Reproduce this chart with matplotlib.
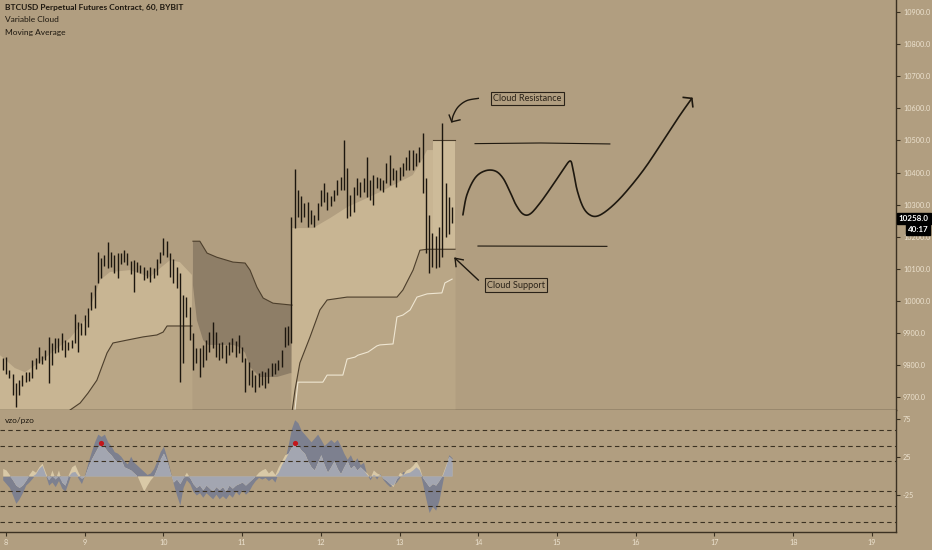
import numpy as np
import matplotlib
matplotlib.use("Agg")
import matplotlib.pyplot as plt

# ---------------- data ----------------
bar_hours = list(range(-1, 137))   # hours since day 8 00:00
highs = [9822, 9825, 9785, 9772, 9744, 9753, 9769, 9778, 9778, 9816,
         9822, 9856, 9828, 9847, 9887, 9869, 9884, 9884, 9900, 9878,
         9872, 9878, 9959, 9934, 9931, 9956, 9978, 10027, 10049, 10152,
         10133, 10143, 10183, 10152, 10143, 10149, 10149, 10158, 10149, 10124,
         10127, 10121, 10112, 10105, 10096, 10105, 10102, 10130, 10152, 10196,
         10186, 10149, 10130, 10105, 10087, 10018, 10012, 9981, 9900, 9853,
         9853, 9862, 9878, 9903, 9934, 9903, 9869, 9872, 9862, 9872,
         9884, 9875, 9893, 9856, 9822, 9809, 9785, 9769, 9775, 9781,
         9778, 9791, 9806, 9806, 9816, 9847, 9918, 9922, 10261, 10411,
         10345, 10327, 10305, 10308, 10283, 10267, 10305, 10345, 10367, 10339,
         10327, 10345, 10376, 10386, 10501, 10414, 10330, 10354, 10383, 10370,
         10383, 10448, 10376, 10392, 10386, 10383, 10376, 10429, 10454, 10414,
         10407, 10417, 10429, 10448, 10470, 10470, 10460, 10479, 10523, 10383,
         10267, 10211, 10202, 10230, 10554, 10367, 10323, 10292]
lows = [9785, 9772, 9760, 9707, 9669, 9707, 9735, 9747, 9750, 9760,
        9788, 9806, 9803, 9816, 9744, 9800, 9837, 9840, 9847, 9825,
        9847, 9853, 9869, 9840, 9893, 9893, 9918, 9971, 9978, 10055,
        10071, 10108, 10102, 10105, 10087, 10071, 10115, 10121, 10112, 10083,
        10027, 10090, 10087, 10065, 10071, 10059, 10071, 10080, 10118, 10143,
        10136, 10074, 10055, 10040, 9747, 9806, 9950, 9878, 9785, 9806,
        9763, 9794, 9816, 9841, 9853, 9825, 9816, 9822, 9806, 9831,
        9840, 9825, 9837, 9809, 9716, 9738, 9732, 9716, 9732, 9738,
        9728, 9744, 9766, 9772, 9785, 9794, 9856, 9862, 9869, 10227,
        10261, 10246, 10261, 10230, 10239, 10230, 10252, 10295, 10308, 10283,
        10295, 10311, 10330, 10345, 10345, 10258, 10264, 10277, 10330, 10323,
        10339, 10323, 10314, 10298, 10351, 10345, 10339, 10367, 10361, 10376,
        10354, 10376, 10389, 10407, 10407, 10407, 10420, 10432, 10336, 10149,
        10087, 10105, 10102, 10105, 10136, 10199, 10208, 10242]
last_price = 10258.0

# Variable Cloud: bullish cloud segment A (upper edge / lower band)
cloudA_up_x = [-1.8, 2.7, 5.8, 10.4, 14.9, 19.5, 24.1, 27.1, 28.7, 31.7, 37.8, 43.9, 47.0, 50.0, 53.0, 56.7]
cloudA_up_y = [9831, 9791, 9778, 9810, 9847, 9884, 9941, 10018, 10065, 10090, 10096, 10074, 10102, 10127, 10121, 10081]
bandA_x = [-2.0, 16.5, 19.5, 22.6, 25.0, 27.7, 30.8, 32.6, 36.9, 41.8, 46.0, 47.9, 49.1, 56.7]
bandA_y = [9560, 9629, 9660, 9682, 9713, 9753, 9838, 9869, 9878, 9888, 9894, 9903, 9922, 9922]
# bearish (dark) cloud segment
dark_up_x = [57.0, 59.1, 61.3, 64.3, 69.2, 72.9, 74.4, 76.5, 78.4, 81.4, 87.2]
dark_up_y = [10186, 10186, 10149, 10136, 10121, 10118, 10096, 10043, 10009, 9993, 9987]
dark_lo_x = [57.0, 58.2, 60.1, 61.6, 69.2, 71.3, 72.9, 74.4, 77.4, 82.6, 86.6, 87.2]
dark_lo_y = [10049, 9940, 9878, 9863, 9863, 9856, 9838, 9794, 9763, 9763, 9775, 9775]
# bullish cloud segment B
cloudB_up_x = [87.2, 93.6, 98.8, 104.0, 114.0, 124.0, 126.8, 128.4, 130.2]
cloudB_up_y = [10227, 10227, 10258, 10292, 10339, 10392, 10439, 10470, 10470]
bandB_x = [87.0, 88.1, 89.6, 92.7, 95.7, 97.9, 104.0, 119.2, 121.0, 124.1, 126.2, 128.4, 136.9]
bandB_y = [9640, 9722, 9807, 9888, 9972, 10003, 10012, 10012, 10034, 10096, 10158, 10161, 10161]
resist_x = [130.2, 136.9]
resist_y = [10501, 10501]
# Moving average (stepped)
ma_x = [88.1, 89.0, 96.6, 97.9, 102.7, 104.0, 106.4, 107.3, 109.5, 110.4, 113.1, 114.0, 118.0,
        119.2, 121.0, 123.2, 125.3, 128.4, 132.9, 133.8, 136.0]
ma_y = [9660, 9747, 9747, 9769, 9769, 9819, 9825, 9831, 9838, 9841, 9860, 9863, 9866,
        9950, 9956, 9972, 10012, 10022, 10025, 10056, 10068]

# vzo / pzo oscillator
vzo = [-5, -10, -15, -25, -36, -30, -22, -12, -8, -3,
       3, 10, 14, 2, -12, -8, -14, -6, -16, -20,
       -8, 5, 6, -3, -10, 2, 18, 32, 45, 55,
       52, 55, 45, 40, 32, 30, 26, 20, 16, 26,
       18, 14, 10, 6, 2, 4, 10, 20, 32, 39,
       25, 8, -10, -25, -38, -15, -5, -10, -20, -25,
       -22, -28, -22, -26, -30, -24, -30, -26, -30, -24,
       -28, -20, -25, -18, -24, -20, -12, -6, -2, -4,
       -2, -6, -3, -8, 5, 15, 22, 40, 62, 74,
       70, 60, 55, 50, 45, 50, 55, 48, 40, 44,
       48, 44, 48, 40, 30, 22, 28, 18, 24, 15,
       18, 2, -5, 2, -4, 3, -5, -10, -14, -12,
       -8, -2, 6, 4, 5, 8, 12, 8, -10, -30,
       -48, -40, -45, -32, -10, 12, 28, 24]
pzo = [10, 8, 2, -5, -12, -15, -12, -6, 2, 8,
       5, 12, 17, 5, -5, 8, -4, 8, -8, -12,
       2, 12, 15, 5, -3, 0, 12, 22, 30, 38,
       43, 38, 32, 28, 22, 18, 22, 12, 10, 8,
       4, 0, -10, -20, -12, -5, 0, 10, 22, 30,
       20, 5, -8, -4, -10, -2, 5, -2, -10, -15,
       -12, -18, -12, -16, -20, -14, -18, -14, -20, -12,
       -16, -12, -10, -8, -12, -8, -4, 0, 5, 8,
       10, 4, 8, 2, 12, 20, 28, 30, 38, 43,
       40, 34, 30, 20, 12, 8, 18, 28, 15, 5,
       12, 20, 10, 3, 12, 20, 10, 14, 8, 12,
       8, 4, -2, 8, 4, 2, -3, -6, -10, -14,
       -4, 5, 2, 8, 10, 14, 20, 12, -2, -8,
       -14, -10, -12, -6, 2, 14, 26, 22]
signal_hours = [29, 88]
osc_levels = [60, 40, 20, -20, -40, -60]

price_ticks = [9700, 9800, 9900, 10000, 10100, 10200, 10300, 10400, 10500, 10600, 10700, 10800, 10900]
day_labels = ["8", "9", "10", "11", "12", "13", "14", "15", "16", "17", "18", "19"]
osc_ticks = [75, 25, -25]

# hand drawn annotations (hour, price)
path_x = [139.3, 140.5, 143.0, 146.0, 149.1, 151.5, 153.7, 155.5, 157.6, 159.8, 162.8, 166.5, 169.8,
          172.0, 172.9, 174.1, 175.9, 178.0, 180.5, 184.1, 188.7, 194.8, 200.9, 205.5, 209.1]
path_y = [10268, 10330, 10383, 10405, 10405, 10383, 10339, 10299, 10271, 10271, 10305, 10358, 10408,
          10436, 10408, 10346, 10293, 10268, 10265, 10289, 10336, 10414, 10508, 10579, 10631]

# ---------------- style ----------------
BG = "#b19e80"
BAR = "#1c160e"
LIGHT = "#c8b593"
BELOW = "#b9a686"
DARKC = "#8e7e67"
LINE = "#4d3f2c"
MA = "#efe6d2"
TXT = "#1e180f"
AXT = "#ece2cf"
SLATE = "#7d808f"
MIX = "#a3a6b1"
CREAM = "#d9c9a7"

W, H = 932, 550
fig = plt.figure(figsize=(W / 100, H / 100), dpi=100)
fig.patch.set_facecolor(BG)

ax = fig.add_axes([0, 1 - 410 / H, 896 / W, 410 / H])
axi = fig.add_axes([0, 18 / H, 896 / W, 122 / H])
for a in (ax, axi):
    a.set_facecolor(BG)
    for s in ("top", "left"):
        a.spines[s].set_visible(False)
    for s in ("right", "bottom"):
        a.spines[s].set_color("#3b3122")
        a.spines[s].set_linewidth(1.0)

x0, x1 = (0 - 6) / 3.28, (896 - 6) / 3.28
ax.set_xlim(x0, x1)
axi.set_xlim(x0, x1)
ymin, ymax = 10937.4 - 3.115 * 410, 10937.4
ax.set_ylim(ymin, ymax)
axi.set_ylim(-73.7, 86.8)

# clouds
ax.fill_between(bandA_x, ymin - 100, bandA_y, color=BELOW, lw=0, zorder=1)
ax.fill_between(bandB_x, ymin - 100, bandB_y, color=BELOW, lw=0, zorder=1)
ax.fill(cloudA_up_x + bandA_x[::-1], cloudA_up_y + bandA_y[::-1], color=LIGHT, lw=0, zorder=1)
ax.fill(dark_up_x + dark_lo_x[::-1], dark_up_y + dark_lo_y[::-1], color=DARKC, lw=0, zorder=1)
ax.fill(cloudB_up_x + bandB_x[::-1], cloudB_up_y + bandB_y[::-1], color=LIGHT, lw=0, zorder=1)
ax.fill_between(resist_x, [bandB_y[-1]] * 2, resist_y, color="#cdbb99", lw=0, zorder=1)

ax.plot(bandA_x, bandA_y, color=LINE, lw=0.8, zorder=2)
ax.plot(dark_up_x, dark_up_y, color=LINE, lw=0.8, zorder=2)
ax.plot(bandB_x, bandB_y, color=LINE, lw=0.8, zorder=2)
ax.plot(resist_x, resist_y, color=LINE, lw=0.8, zorder=2)
ax.plot(ma_x, ma_y, color=MA, lw=0.8, zorder=2)

# OHLC bars
ax.vlines(bar_hours, lows, highs, color=BAR, lw=1.0, zorder=3)

# annotations
def catmull(xs, ys, n=12):
    xs = np.asarray(xs, float); ys = np.asarray(ys, float)
    px = np.concatenate([[xs[0]], xs, [xs[-1]]]); py = np.concatenate([[ys[0]], ys, [ys[-1]]])
    ox, oy = [], []
    for k in range(1, len(px) - 2):
        t = np.linspace(0, 1, n, endpoint=False)
        for arr, out in ((px, ox), (py, oy)):
            p0, p1, p2, p3 = arr[k - 1], arr[k], arr[k + 1], arr[k + 2]
            out.extend(0.5 * (2 * p1 + (-p0 + p2) * t + (2 * p0 - 5 * p1 + 4 * p2 - p3) * t ** 2
                              + (-p0 + 3 * p1 - 3 * p2 + p3) * t ** 3))
    ox.append(xs[-1]); oy.append(ys[-1])
    return ox, oy

cx, cy = catmull(path_x, path_y)
ax.plot(cx, cy, color=TXT, lw=1.2, zorder=4, solid_capstyle="round")
ax.plot([206.5, 209.1, 209.4], [10634, 10631, 10605], color=TXT, lw=1.2, zorder=4)
ax.plot([143.0, 163.0, 184.1], [10490, 10492, 10489], color=TXT, lw=0.8, zorder=4)
ax.plot([143.9, 183.2], [10171, 10170], color=TXT, lw=0.8, zorder=4)

ax_x, ax_y = catmull([144.0, 140.5, 137.9, 136.4, 135.9], [10631, 10624, 10605, 10579, 10558])
ax.plot(ax_x, ax_y, color=TXT, lw=1.0, zorder=4)
ax.plot([135.1, 135.9, 138.4], [10579, 10558, 10564], color=TXT, lw=1.0, zorder=4)
ax.plot([144.0, 136.9], [10065, 10133], color=TXT, lw=1.0, zorder=4)
ax.plot([139.4, 136.9, 137.2], [10128, 10133, 10107], color=TXT, lw=1.0, zorder=4)

boxkw = dict(boxstyle="square,pad=0.25", fc=BG, ec="#2a2218", lw=0.8)
ax.text(159.0, 10630, "Cloud Resistance", fontsize=6.6, family="Lato", color="#2a2218",
        ha="center", va="center", bbox=boxkw, zorder=5)
ax.text(155.5, 10049, "Cloud Support", fontsize=6.6, family="Lato", color="#2a2218",
        ha="center", va="center", bbox=boxkw, zorder=5)

# price axis
ax.yaxis.tick_right()
ax.set_yticks(price_ticks)
ax.set_yticklabels([f"{v:.1f}" for v in price_ticks])
ax.tick_params(axis="y", colors="#3b3122", labelcolor=AXT, labelsize=5.2, length=3, width=0.8, pad=2)
for lab in ax.get_yticklabels():
    lab.set_family("Lato")
ax.set_xticks([])

# oscillator
hrs = np.array(bar_hours)
v = np.array(vzo, float); p = np.array(pzo, float)
both = np.where(v * p > 0, np.sign(v) * np.minimum(np.abs(v), np.abs(p)), 0.0)
axi.fill_between(hrs, 0, v, color=SLATE, lw=0, zorder=1)
axi.fill_between(hrs, 0, p, color=CREAM, lw=0, zorder=2)
axi.fill_between(hrs, 0, both, color=MIX, lw=0, zorder=3)
for lv in osc_levels:
    axi.axhline(lv, color="#3b3122", lw=0.8, ls=(0, (4, 3)), zorder=4)
axi.scatter(signal_hours, [pzo[h + 1] for h in signal_hours], s=14, color="#c3161b", zorder=5, lw=0)

axi.yaxis.tick_right()
axi.set_yticks(osc_ticks)
axi.set_yticklabels([str(t) for t in osc_ticks])
axi.tick_params(axis="y", colors="#3b3122", labelcolor=AXT, labelsize=5.2, length=3, width=0.8, pad=2)
axi.set_xticks([24 * k for k in range(len(day_labels))])
axi.set_xticklabels(day_labels)
axi.tick_params(axis="x", colors="#3b3122", labelcolor=AXT, labelsize=5.2, length=3, width=0.8, pad=2)
for lab in axi.get_yticklabels() + axi.get_xticklabels():
    lab.set_family("Lato")

# header texts
fig.text(5 / W, 1 - 7 / H, "BTCUSD Perpetual Futures Contract, 60, BYBIT", fontsize=6.0,
         family="Lato", weight="bold", color=TXT, va="center")
fig.text(5 / W, 1 - 20 / H, "Variable Cloud", fontsize=6.0, family="Lato", color=TXT, va="center")
fig.text(5 / W, 1 - 32 / H, "Moving Average", fontsize=6.0, family="Lato", color=TXT, va="center")
fig.text(5 / W, 1 - 421 / H, "vzo/pzo", fontsize=6.0, family="Lato", color=TXT, va="center")

# last price tags
fy = (last_price - ymin) / (ymax - ymin)
ax.text(1.003, fy, f"{last_price:.1f}", transform=ax.transAxes, fontsize=5.8, family="Lato",
        color="white", weight="bold", va="center", ha="left",
        bbox=dict(boxstyle="square,pad=0.25", fc="black", ec="black"), clip_on=False, zorder=6)
ax.text(1.013, fy - 0.028, "40:17", transform=ax.transAxes, fontsize=5.8, family="Lato",
        color="white", weight="bold", va="center", ha="left",
        bbox=dict(boxstyle="square,pad=0.2", fc="black", ec="black"), clip_on=False, zorder=6)

fig.savefig("out.png", dpi=100, facecolor=BG)
